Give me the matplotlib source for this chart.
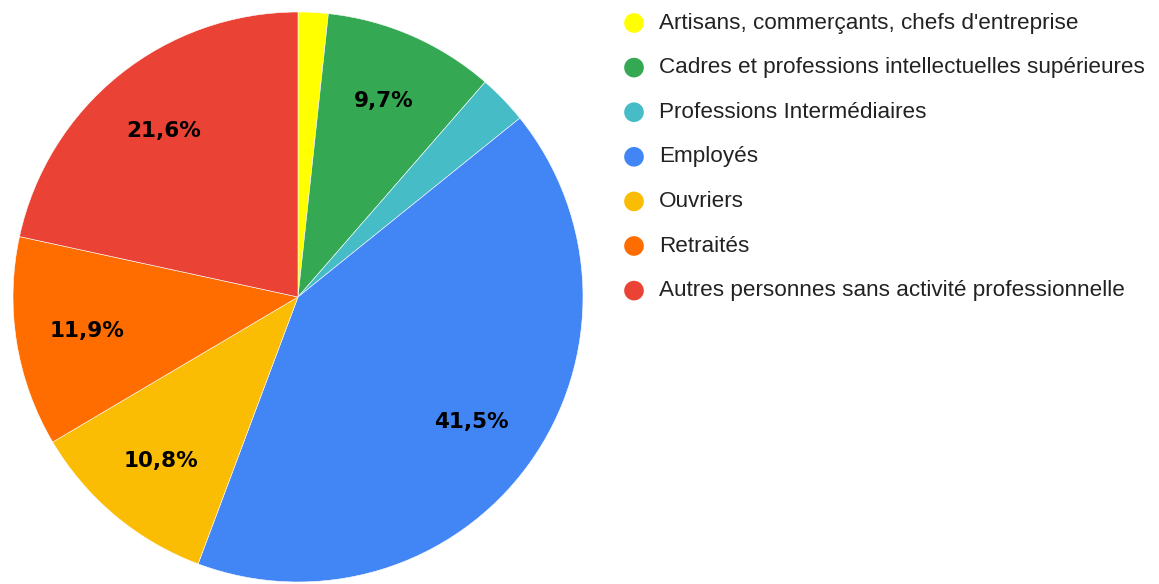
import matplotlib.pyplot as plt

plt.rcParams["font.family"] = ["Liberation Sans", "DejaVu Sans"]

# Data (percent)
categories = [
    "Artisans, commerçants, chefs d'entreprise",
    "Cadres et professions intellectuelles supérieures",
    "Professions Intermédiaires",
    "Employés",
    "Ouvriers",
    "Retraités",
    "Autres personnes sans activité professionnelle",
]
shares = [1.7, 9.7, 2.8, 41.5, 10.8, 11.9, 21.6]
colors = ["#ffff00", "#34a853", "#46bdc6", "#4285f4", "#fbbc04", "#ff6d01", "#ea4335"]

W, H = 1159, 584
fig = plt.figure(figsize=(W / 100, H / 100), dpi=100)

# pie axes: centre (298, 297) px, radius 285 px
cx, cy, r = 298, 297, 285
ax = fig.add_axes([(cx - r) / W, (H - cy - r) / H, 2 * r / W, 2 * r / H])


def fmt(p):
    return f"{p:.1f}%".replace(".", ",") if p > 5 else ""


wedges, texts, autotexts = ax.pie(
    shares,
    colors=colors,
    startangle=90,
    counterclock=False,
    radius=1,
    autopct=fmt,
    pctdistance=0.75,
    wedgeprops=dict(edgecolor="white", linewidth=0.4),
    textprops=dict(fontsize=15.5, fontweight="bold", color="#000000",
                   family="DejaVu Sans"),
)
ax.set_xlim(-1, 1)
ax.set_ylim(-1, 1)
ax.set_aspect("equal")
ax.axis("off")

# legend drawn in pixel coordinates
lg = fig.add_axes([0, 0, 1, 1])
lg.set_xlim(0, W)
lg.set_ylim(H, 0)
lg.axis("off")
y0, step = 23, 44.6
for i, (name, c) in enumerate(zip(categories, colors)):
    y = y0 + i * step
    lg.scatter(634, y, s=200, color=c, edgecolors="none")
    lg.text(659, y, name, fontsize=16.2, color="#222222", va="center", ha="left")

fig.savefig("out.png", dpi=100)
